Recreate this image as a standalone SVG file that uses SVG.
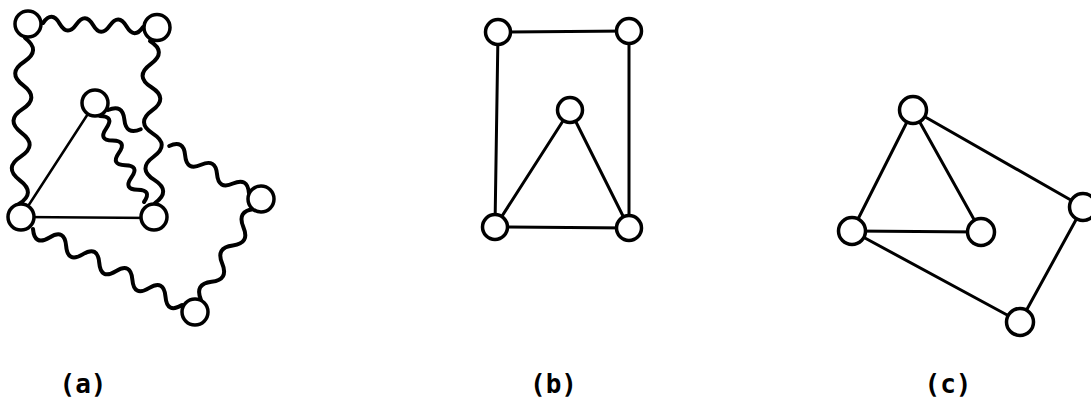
<svg xmlns="http://www.w3.org/2000/svg" width="1091" height="402" viewBox="0 0 1091 402">
<style>
.node{fill:#fff;stroke:#000;stroke-width:3.5}
.edge{fill:none;stroke:#000;stroke-width:3;stroke-linecap:round}
.thin{stroke-width:2.5}
.wavy{fill:none;stroke:#000;stroke-width:4;stroke-linecap:round;stroke-linejoin:round}
.label{font-family:"DejaVu Sans Mono","Liberation Mono",monospace;font-size:26px;font-weight:bold;fill:#000;text-anchor:middle}
</style>
<rect width="1091" height="402" fill="#fff"/>
<g id="connectors">
  <!-- (a) -->
  <line class="edge thin" x1="95" y1="103" x2="21" y2="217"/>
  <line class="edge thin" x1="21" y1="217" x2="154" y2="218"/>
  <path class="wavy" transform="translate(43,23) rotate(2.29)" d="M0,0 q8.35,-13 16.7,0 t16.7,0 t16.7,0 t16.7,0 t16.7,0 t16.7,0"/>
  <path class="wavy" transform="translate(25,38) rotate(92.07)" d="M0,0 q11.87,-17 23.73,0 t23.73,0 t23.73,0 t23.73,0 t23.73,0 t23.73,0 t23.73,0"/>
  <path class="wavy" transform="translate(150,41) rotate(88.23)" d="M0,0 q11.58,-17 23.16,0 t23.16,0 t23.16,0 t23.16,0 t23.16,0 t23.16,0 t23.16,0"/>
  <path class="wavy" transform="translate(100,116) rotate(62.9)" d="M0,0 q6.9,-13 13.8,0 t13.8,0 t13.8,0 t13.8,0 t13.8,0 t13.8,0 t13.8,0"/>
  <path class="wavy" transform="translate(108,110) rotate(30.48)" d="M0,0 q9.5,-13 19,0 t19,0"/>
  <path class="wavy" transform="translate(169.2,146) rotate(30.48)" d="M0,0 q9.25,-13 18.5,0 t18.5,0 t18.5,0 t18.5,0 t18.5,0"/>
  <path class="wavy" transform="translate(33,229) rotate(27.02)" d="M0,0 q9.3,15 18.59,0 t18.59,0 t18.59,0 t18.59,0 t18.59,0 t18.59,0 t18.59,0 t18.59,0 t18.59,0"/>
  <path class="wavy" transform="translate(254,209) rotate(120.22)" d="M0,0 q10.53,14 21.06,0 t21.06,0 t21.06,0 t21.06,0 t21.06,0"/>
  <!-- (b) -->
  <line class="edge" x1="498" y1="32" x2="629" y2="31"/>
  <line class="edge" x1="498" y1="32" x2="495" y2="227"/>
  <line class="edge" x1="629" y1="31" x2="629" y2="228"/>
  <line class="edge" x1="570" y1="110" x2="495" y2="227"/>
  <line class="edge" x1="570" y1="110" x2="629" y2="228"/>
  <line class="edge" x1="495" y1="227" x2="629" y2="228"/>
  <!-- (c) -->
  <line class="edge" x1="913" y1="110" x2="852" y2="231"/>
  <line class="edge" x1="913" y1="110" x2="981" y2="232"/>
  <line class="edge" x1="913" y1="110" x2="1083" y2="207"/>
  <line class="edge" x1="852" y1="231" x2="981" y2="232"/>
  <line class="edge" x1="852" y1="231" x2="1020" y2="322"/>
  <line class="edge" x1="1083" y1="207" x2="1020" y2="322"/>
</g>
<g id="a-n1"><circle class="node" cx="28" cy="24" r="13"/></g>
<g id="a-n2"><circle class="node" cx="157" cy="27.5" r="13"/></g>
<g id="a-n3"><circle class="node" cx="95" cy="103" r="13"/></g>
<g id="a-n4"><circle class="node" cx="21" cy="217" r="13"/></g>
<g id="a-n5"><circle class="node" cx="154" cy="217" r="13"/></g>
<g id="a-n6"><circle class="node" cx="261" cy="199" r="13"/></g>
<g id="a-n7"><circle class="node" cx="195" cy="312" r="13"/></g>
<g id="b-n1"><circle class="node" cx="498" cy="32" r="12.5"/></g>
<g id="b-n2"><circle class="node" cx="629" cy="31" r="12.5"/></g>
<g id="b-n3"><circle class="node" cx="570" cy="110" r="12.5"/></g>
<g id="b-n4"><circle class="node" cx="495" cy="227" r="12.5"/></g>
<g id="b-n5"><circle class="node" cx="629" cy="228" r="12.5"/></g>
<g id="c-n1"><circle class="node" cx="913" cy="110" r="13.5"/></g>
<g id="c-n2"><circle class="node" cx="852" cy="231" r="13.5"/></g>
<g id="c-n3"><circle class="node" cx="981" cy="232" r="13.5"/></g>
<g id="c-n4"><circle class="node" cx="1083" cy="207" r="13.5"/></g>
<g id="c-n5"><circle class="node" cx="1020" cy="322" r="13.5"/></g>
<g id="labels">
  <text class="label" x="83" y="393">(a)</text>
  <text class="label" x="553.5" y="393">(b)</text>
  <text class="label" x="948" y="393">(c)</text>
</g>
</svg>
